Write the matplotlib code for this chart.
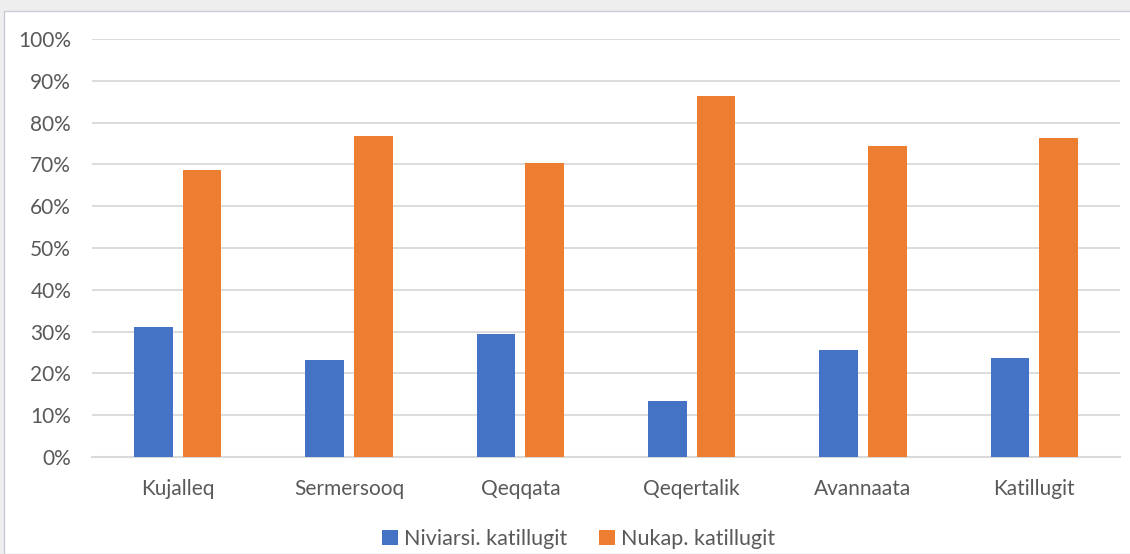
import numpy as np
import matplotlib
matplotlib.use("Agg")
import matplotlib.pyplot as plt
from matplotlib.patches import Rectangle

# data
regions = ["Kujalleq", "Sermersooq", "Qeqqata", "Qeqertalik", "Avannaata", "Katillugit"]
niviarsi = [31.2, 23.1, 29.4, 13.5, 25.6, 23.8]
nukap = [68.7, 76.7, 70.4, 86.4, 74.3, 76.2]
series_names = ["Niviarsi. katillugit", "Nukap. katillugit"]
yticks = list(range(0, 101, 10))

BLUE = "#4472c4"
ORANGE = "#ed7d31"
TEXT = "#595959"
GRID = "#d9d9d9"

plt.rcParams["font.family"] = ["Lato", "DejaVu Sans"]

fig = plt.figure(figsize=(11.3, 5.54), dpi=100, facecolor="#eeeeee")
# white chart area with thin border
fig.add_artist(Rectangle((4 / 1130, 0), 1.0, 1 - 11 / 554, transform=fig.transFigure,
                         facecolor="white", edgecolor="#c8ccd2", linewidth=1.0, zorder=-10))

ax = fig.add_axes([92 / 1130, 1 - 457 / 554, (1120 - 92) / 1130, (457 - 39) / 554])
ax.set_facecolor("white")

x = np.arange(len(regions))
w = 0.224
off = 0.142
ax.bar(x - off, niviarsi, w, color=BLUE, label=series_names[0], zorder=3)
ax.bar(x + off, nukap, w, color=ORANGE, label=series_names[1], zorder=3)

ax.set_xlim(-0.5, len(regions) - 0.5)
ax.set_ylim(0, 100)
ax.set_yticks(yticks)
ax.set_yticklabels([f"{v}%" for v in yticks])
ax.set_xticks(x)
ax.set_xticklabels(regions)
ax.tick_params(axis="both", length=0, labelsize=15, labelcolor=TEXT)
ax.tick_params(axis="y", pad=15)
ax.tick_params(axis="x", pad=16)
ax.grid(axis="y", color=GRID, linewidth=1.3, zorder=0)
for s in ["top", "right", "left"]:
    ax.spines[s].set_visible(False)
ax.spines["bottom"].set_color(GRID)
ax.spines["bottom"].set_linewidth(1.5)

fig.legend(loc="center", bbox_to_anchor=(0.512, 1 - 539 / 554), ncol=2, frameon=False,
           fontsize=15.5, labelcolor=TEXT, handlelength=0.75, handleheight=0.75,
           handletextpad=0.25, columnspacing=1.5)

fig.savefig("out.png", dpi=100, facecolor=fig.get_facecolor())
